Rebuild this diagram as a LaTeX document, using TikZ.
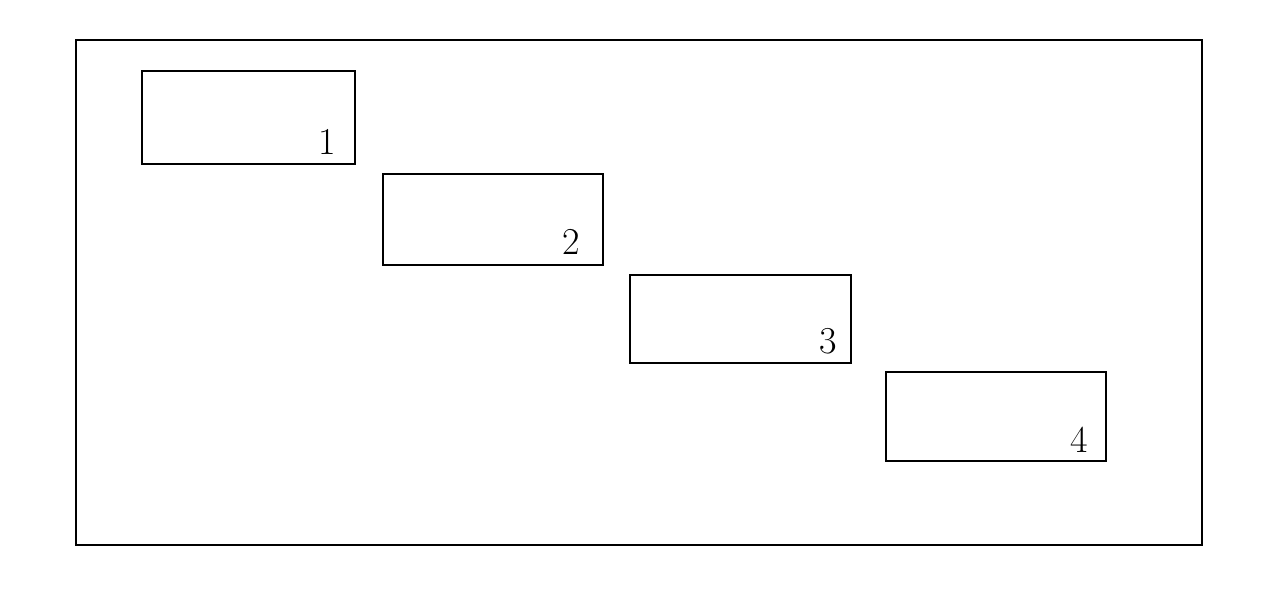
\documentclass[tikz,border=0pt]{standalone}
\begin{document}
\begin{tikzpicture}[x=1pt,y=-1pt,
  frame/.style={draw=black,line width=2.2pt},
  blk/.style={draw=black,line width=2pt,inner sep=0pt,anchor=north west},
  num/.style={font=\fontsize{38}{40}\selectfont,inner sep=0pt,anchor=center}]
\useasboundingbox (0,0) rectangle (1287,593);
\node[frame,inner sep=0pt,anchor=north west,minimum width=1126pt,minimum height=505pt] (outer) at (75,39) {};
\node[blk,minimum width=213pt,minimum height=93pt] (b1) at (141,70) {};
\node[blk,minimum width=220pt,minimum height=91pt] (b2) at (382,173) {};
\node[blk,minimum width=221pt,minimum height=88pt] (b3) at (629,274) {};
\node[blk,minimum width=220pt,minimum height=89pt] (b4) at (885,371) {};
\node[num] (l1) at ([xshift=-29pt,yshift=23pt]b1.south east) {1};
\node[num] (l2) at ([xshift=-33pt,yshift=24pt]b2.south east) {2};
\node[num] (l3) at ([xshift=-24pt,yshift=23pt]b3.south east) {3};
\node[num] (l4) at ([xshift=-28pt,yshift=22pt]b4.south east) {4};
\end{tikzpicture}
\end{document}
